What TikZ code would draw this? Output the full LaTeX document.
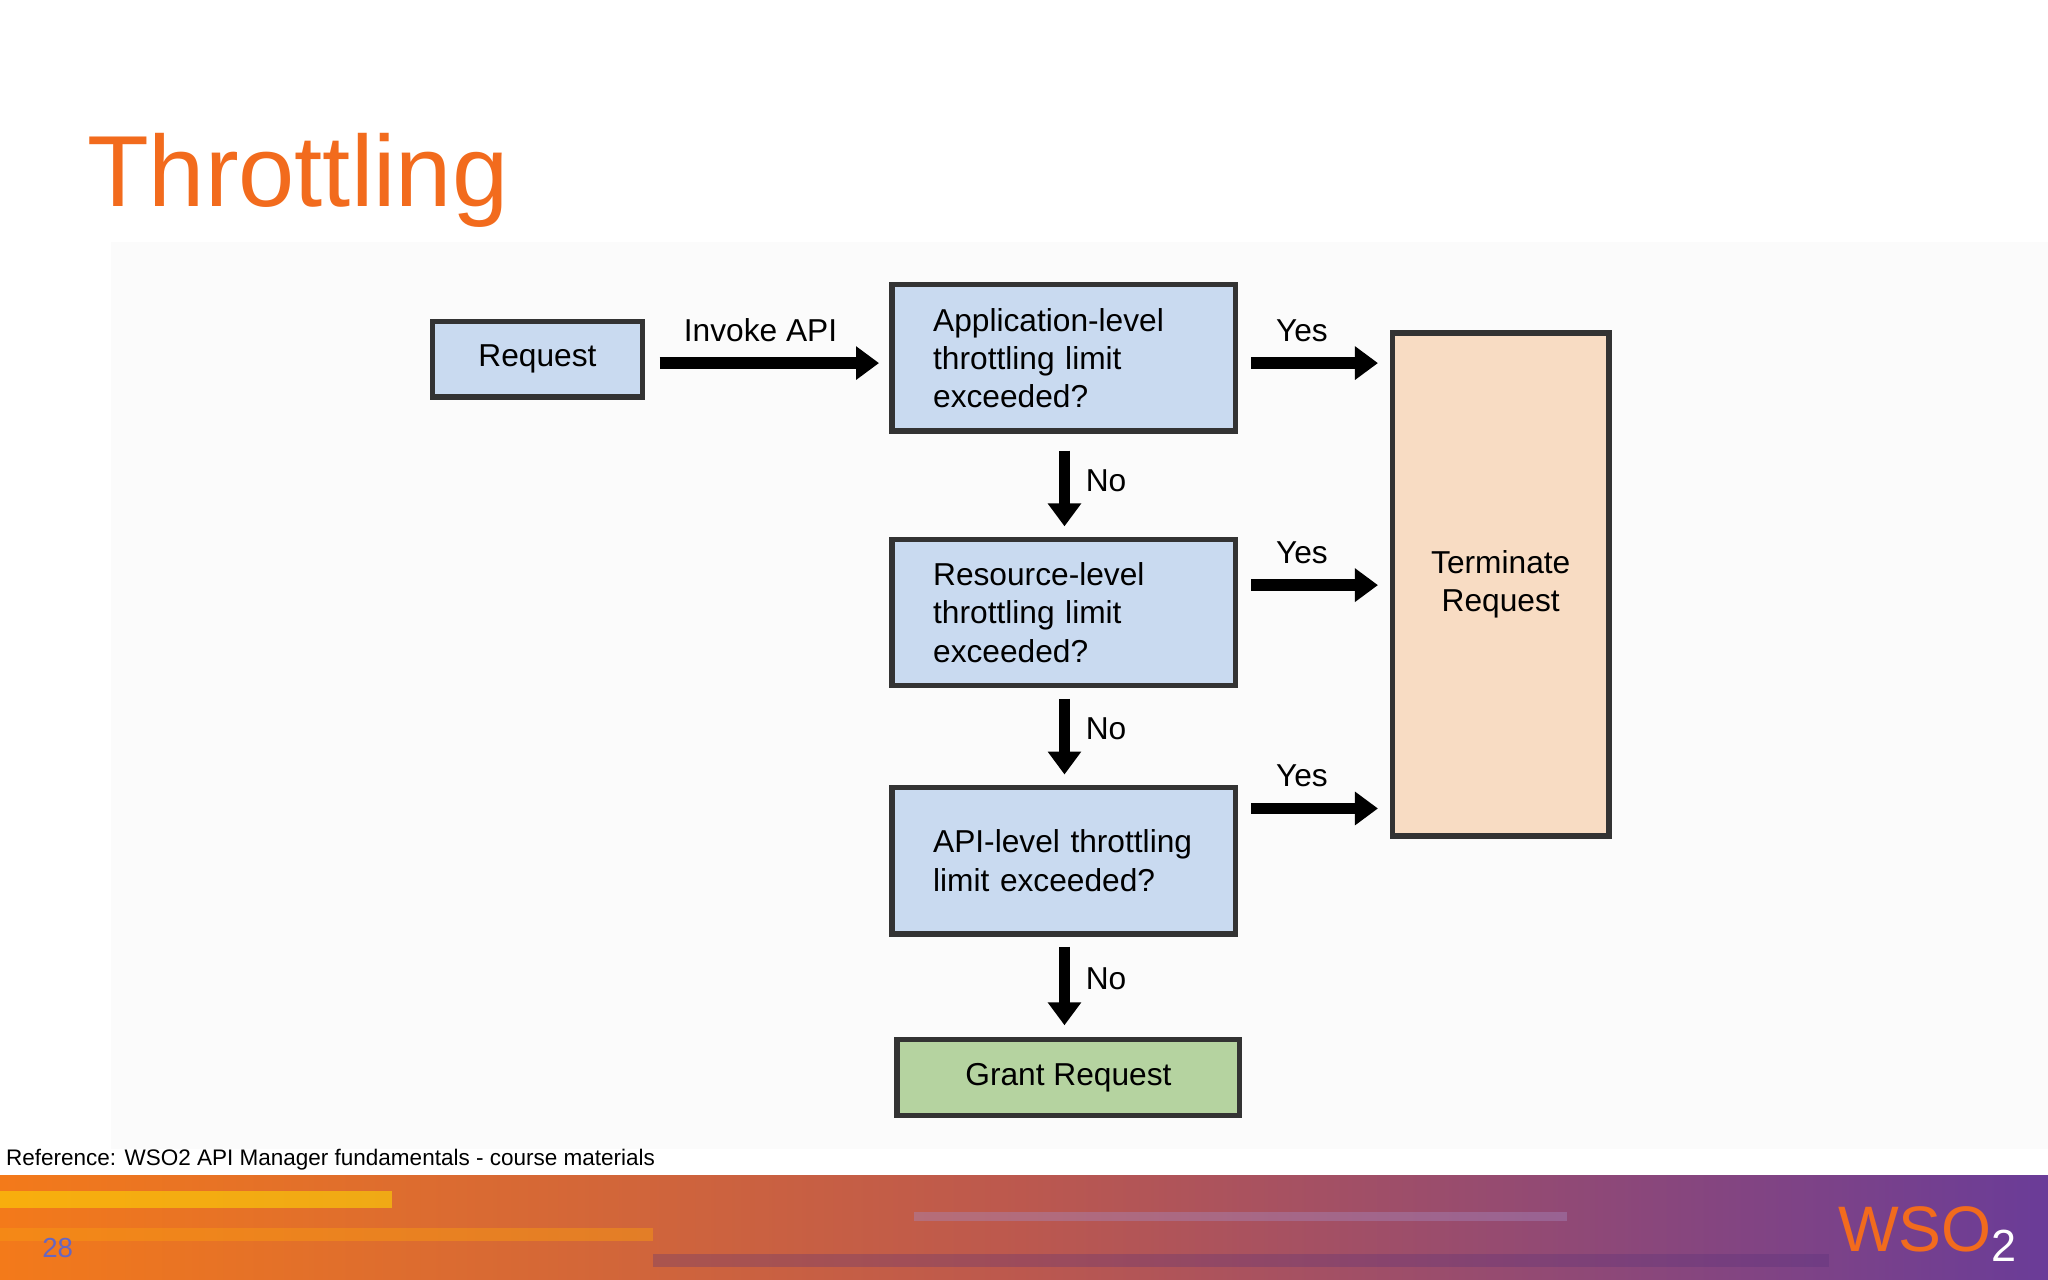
\documentclass[tikz,border=0pt]{standalone}
\usepackage{fontspec}
\setmainfont{Liberation Sans}
\usetikzlibrary{arrows.meta}
\definecolor{boxblue}{HTML}{C9DAF0}
\definecolor{boxpeach}{HTML}{F8DCC3}
\definecolor{boxgreen}{HTML}{B5D3A0}
\definecolor{wsoorange}{HTML}{F26B1D}
\definecolor{wsopurple}{HTML}{6A3C98}
\begin{document}
\begin{tikzpicture}[x=0.01cm,y=-0.01cm,
  bx/.style={draw=black!80,line width=1.2pt,inner sep=0pt,font=\fontsize{6.9pt}{8.3pt}\selectfont,align=left},
  arr/.style={line width=2.6pt,-{Triangle[length=5pt,width=7pt]}},
  lbl/.style={font=\fontsize{6.9pt}{8pt}\selectfont}]
\useasboundingbox (0,0) rectangle (1568,980);
\fill[white] (0,0) rectangle (1568,980);
\fill[black!1.5] (85,185) rectangle (1568,880);
\node[anchor=base west,inner sep=0pt,text=wsoorange,font=\fontsize{22pt}{26pt}\selectfont] (title) at (66,158) {Throttling};
% boxes
\node[bx,fill=boxblue,minimum width=1.61cm,minimum height=0.58cm,align=center] (req) at (411.5,275) {Request};
\node[bx,fill=boxblue,minimum width=2.63cm,minimum height=1.12cm,text width=2.0cm] (app) at (814.5,274) {Application-level\\throttling limit\\exceeded?};
\node[bx,fill=boxblue,minimum width=2.63cm,minimum height=1.12cm,text width=2.0cm] (res) at (814.5,469) {Resource-level\\throttling limit\\exceeded?};
\node[bx,fill=boxblue,minimum width=2.63cm,minimum height=1.12cm,text width=2.0cm] (api) at (814.5,659) {API-level throttling\\limit exceeded?};
\node[bx,fill=boxgreen,minimum width=2.62cm,minimum height=0.58cm,align=center] (grant) at (818,825) {Grant Request};
\node[bx,fill=boxpeach,minimum width=1.66cm,minimum height=3.85cm,align=center] (term) at (1149,447.5) {Terminate\\Request};
% arrows
\coordinate (a1) at (505,278); \coordinate (a2) at (673,278);
\draw[arr] (a1) -- (a2) node[pos=0.46,above=0pt,lbl] (inv) {Invoke API};
\foreach \y/\n in {278/y1,448/y2,619/y3}{
  \coordinate (s\n) at (958,\y); \coordinate (e\n) at (1055,\y);
  \draw[arr] (s\n) -- (e\n) node[pos=0.4,above=0pt,lbl] {Yes};}
\foreach \a/\b/\n in {345/403/n1,535/593/n2,725/785/n3}{
  \coordinate (s\n) at (815,\a); \coordinate (e\n) at (815,\b);
  \draw[arr] (s\n) -- (e\n) node[pos=0.4,right=0pt,lbl] {No};}
% footer
\node[anchor=base west,font=\fontsize{4.9pt}{6pt}\selectfont,inner sep=0pt] (ref) at (4,892) {Reference: WSO2 API Manager fundamentals - course materials};
\shade[left color=wsoorange!90!yellow,right color=wsopurple,middle color=wsoorange!60!wsopurple] (0,900) rectangle (1568,980);
\fill[yellow!70!orange,opacity=0.6] (0,912) rectangle (300,925);
\fill[wsoorange!70!yellow,opacity=0.5] (0,940) rectangle (500,950);
\fill[wsopurple!60!white,opacity=0.4] (700,928) rectangle (1200,935);
\fill[wsopurple!80!black,opacity=0.3] (500,960) rectangle (1400,970);
\node[anchor=base west,text=black!40!blue!60,font=\fontsize{6pt}{7pt}\selectfont] (pg) at (20,963) {28};
\node[anchor=base west,text=wsoorange,font=\fontsize{14pt}{16pt}\selectfont] (logo) at (1395,958) {WSO\textsubscript{\color{white}2}};
\end{tikzpicture}
\end{document}
